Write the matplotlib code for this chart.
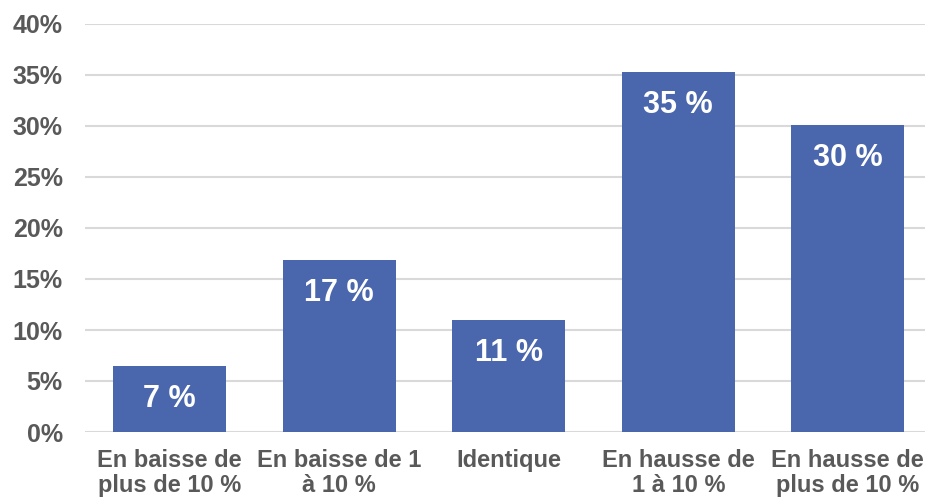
import matplotlib.pyplot as plt
from matplotlib.ticker import FuncFormatter

categories = ["En baisse de\nplus de 10 %", "En baisse de 1\nà 10 %", "Identique",
              "En hausse de\n1 à 10 %", "En hausse de\nplus de 10 %"]
values = [6.5, 16.9, 11.0, 35.3, 30.1]
labels = ["7 %", "17 %", "11 %", "35 %", "30 %"]

plt.rcParams['font.family'] = ['Liberation Sans', 'DejaVu Sans']
plt.rcParams['font.weight'] = 'bold'

fig = plt.figure(figsize=(9.25, 4.99), dpi=100)
ax = fig.add_axes([85 / 925, 67 / 499, 847.5 / 925, 408 / 499])

x = range(len(categories))
bars = ax.bar(x, values, width=0.667, color="#4A66AC", zorder=3)

# étiquettes dans les barres
for b, lab in zip(bars, labels):
    ax.annotate(lab, (b.get_x() + b.get_width() / 2, b.get_height()),
                xytext=(0, -24), textcoords="offset points",
                ha="center", va="center", color="white",
                fontsize=22, fontweight="bold")

ax.set_xlim(-0.5, len(categories) - 0.5)
ax.set_ylim(0, 40)
ax.set_yticks(range(0, 41, 5))
ax.yaxis.set_major_formatter(FuncFormatter(lambda v, p: f"{v:.0f}%"))
ax.set_xticks(list(x))
ax.set_xticklabels(categories, linespacing=1.15)

ax.tick_params(axis="both", length=0, labelsize=17, labelcolor="#595959")
ax.tick_params(axis="y", pad=16, labelsize=18)
ax.tick_params(axis="x", pad=12)

ax.grid(axis="y", color="#D9D9D9", linewidth=1.5, zorder=0)
for s in ax.spines.values():
    s.set_visible(False)

fig.savefig("out.png", dpi=100)
